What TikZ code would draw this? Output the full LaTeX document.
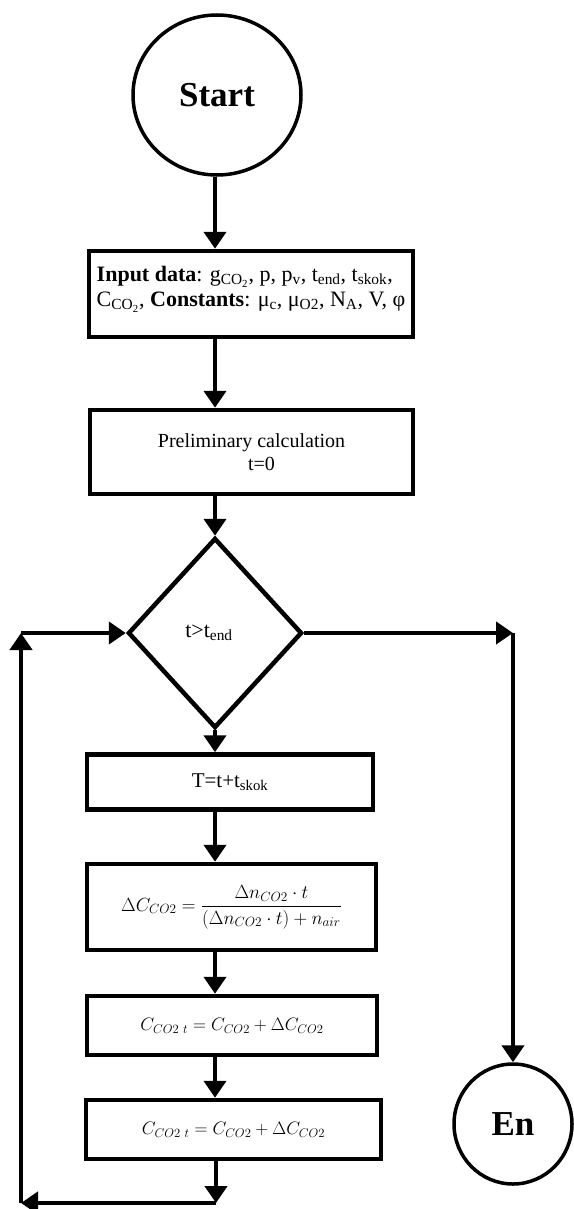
\RequirePackage{fix-cm}
\documentclass[tikz,border=0pt]{standalone}
\usepackage{fontspec}
\setmainfont{Liberation Serif}
\usetikzlibrary{arrows.meta,shapes.geometric}
\newcommand{\sbs}[1]{\textsubscript{#1}}
\newcommand{\cotwo}{CO\textsubscript{2}}
\begin{document}
\begin{tikzpicture}[x=1pt,y=-1pt,
  box/.style={draw, line width=4.5pt, inner sep=0pt, font=\fontsize{21}{22}\selectfont},
  term/.style={draw, line width=3.5pt, ellipse, inner sep=0pt, font=\fontsize{35}{40}\selectfont\bfseries},
  cond/.style={draw, diamond, line width=4.5pt, inner sep=0pt, font=\fontsize{22}{24}\selectfont},
  conn/.style={line width=4.5pt, -{Triangle[length=17pt,width=22pt]}},
  mathbox/.style={box, font=\fontsize{18}{20}\selectfont}]
\useasboundingbox (0,0) rectangle (573,1209);
\fill[white] (0,0) rectangle (573,1209);

\node[term, minimum width=168, minimum height=160] (start) at (217,95) {Start};
\node[box, minimum width=324, minimum height=86, align=left, font=\fontsize{22}{25}\selectfont] (inp) at (251,294)
  {\textbf{Input data}: g\sbs{\cotwo}, p, p\sbs{v}, t\sbs{end}, t\sbs{skok},\\
   C\sbs{\cotwo}, \textbf{Constants}: μ\sbs{c}, μ\sbs{O2}, N\sbs{A}, V, φ\\[-10pt]};
\node[box, minimum width=323, minimum height=84, align=center, font=\fontsize{20}{23}\selectfont] (pre) at (251.5,452)
  {Preliminary calculation\\ \hspace*{20pt}t=0};
\node[cond, minimum width=174, minimum height=190] (dia) at (215,633) {\hspace*{-12pt}t>t\sbs{end}};
\node[box, minimum width=286, minimum height=55] (tb) at (230,782) {T=t+t\sbs{skok}};
\node[mathbox, minimum width=289, minimum height=86, font=\fontsize{19}{21}\selectfont] (dc) at (231.5,907)
  {$\displaystyle \Delta C_{CO2} = \frac{\Delta n_{CO2}\cdot t}{(\Delta n_{CO2}\cdot t)+n_{air}}$};
\node[mathbox, minimum width=290, minimum height=59] (c1) at (232,1025.5)
  {$C_{CO2\ t} = C_{CO2} + \Delta C_{CO2}$};
\node[mathbox, minimum width=295, minimum height=59] (c2) at (233.5,1129.5)
  {$C_{CO2\ t} = C_{CO2} + \Delta C_{CO2}$};
\node[term, minimum width=118, minimum height=120] (en) at (513,1124) {En};

\coordinate (b1) at (216,1203);
\coordinate (b2) at (21,1203);
\coordinate (b3) at (21,633);
\coordinate (r1) at (513,633);

\draw[conn] (start.south -| dia.north) -- (inp.north -| dia.north);
\draw[conn] (inp.south -| dia.north) -- (pre.north -| dia.north);
\draw[conn] (pre.south -| dia.north) -- (dia.north);
\draw[conn] (dia.south) -- (tb.north -| dia.south);
\draw[conn] (tb.south -| dia.south) -- (dc.north -| dia.south);
\draw[conn] (dc.south -| dia.south) -- (c1.north -| dia.south);
\draw[conn] (c1.south -| dia.south) -- (c2.north -| dia.south);
\draw[conn] (c2.south -| b1) -- (b1);
\draw[conn] (b1) -- (b2);
\draw[conn] (b2) -- (b3);
\draw[conn] (b3) -- (dia.west);
\draw[conn] (dia.east) -- (r1);
\draw[conn] (r1) -- (en.north);
\end{tikzpicture}
\end{document}
